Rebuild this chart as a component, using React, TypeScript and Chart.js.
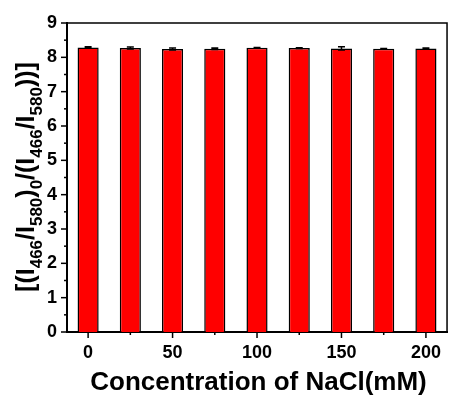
import React, { useEffect, useRef } from "react";
import { Chart, registerables } from "chart.js";

Chart.register(...registerables);

const categories = ["0", "25", "50", "75", "100", "125", "150", "175", "200"];
const values = [8.29, 8.27, 8.24, 8.25, 8.28, 8.27, 8.26, 8.25, 8.26];
const errors = [0.02, 0.03, 0.03, 0.02, 0.01, 0.01, 0.05, 0.01, 0.01];
const yTicks = [0, 1, 2, 3, 4, 5, 6, 7, 8, 9];
const xTitle = "Concentration of NaCl(mM)";
// [text, isSubscript]
const yTitleParts: [string, boolean][] = [
  ["[(I", false],
  ["466", true],
  ["/I", false],
  ["580", true],
  [")", false],
  ["0", true],
  ["/(I", false],
  ["466", true],
  ["/I", false],
  ["580", true],
  ["))]", false],
];

const FONT = "Arial, 'Liberation Sans', sans-serif";

const decorPlugin = {
  id: "decor",
  afterDatasetsDraw(chart: any) {
    const ctx = chart.ctx;
    const ys = chart.scales.y;
    const meta = chart.getDatasetMeta(0);
    ctx.save();
    ctx.strokeStyle = "#000";
    ctx.lineWidth = 1.5;
    meta.data.forEach((bar: any, i: number) => {
      const x = bar.x;
      const yTop = ys.getPixelForValue(values[i] + errors[i]);
      const yBot = ys.getPixelForValue(values[i] - errors[i]);
      ctx.beginPath();
      ctx.moveTo(x, yTop);
      ctx.lineTo(x, yBot);
      ctx.moveTo(x - 3.5, yTop);
      ctx.lineTo(x + 3.5, yTop);
      ctx.moveTo(x - 3.5, yBot);
      ctx.lineTo(x + 3.5, yBot);
      ctx.stroke();
    });
    ctx.restore();
  },
  afterDraw(chart: any) {
    const ctx = chart.ctx;
    const area = chart.chartArea;
    const xs = chart.scales.x;
    const ys = chart.scales.y;
    ctx.save();
    ctx.strokeStyle = "#000";
    ctx.lineWidth = 1.5;
    ctx.beginPath();
    ctx.moveTo(area.left, area.top);
    ctx.lineTo(area.right, area.top);
    ctx.lineTo(area.right, area.bottom);
    ctx.stroke();
    for (let v = 0; v <= 9.001; v += 0.5) {
      const y = ys.getPixelForValue(v);
      const major = Math.abs(v - Math.round(v)) < 1e-6;
      ctx.beginPath();
      ctx.moveTo(area.left, y);
      ctx.lineTo(area.left - (major ? 6 : 3), y);
      ctx.stroke();
    }
    categories.forEach((c, i) => {
      const x = xs.getPixelForValue(i);
      const major = i % 2 === 0;
      ctx.beginPath();
      ctx.moveTo(x, area.bottom);
      ctx.lineTo(x, area.bottom + (major ? 6 : 3));
      ctx.stroke();
    });
    ctx.fillStyle = "#000";
    ctx.font = `bold 26px ${FONT}`;
    ctx.textAlign = "center";
    ctx.textBaseline = "alphabetic";
    ctx.fillText(xTitle, 258.5, 390);
    const mainFont = `bold 25px ${FONT}`;
    const subFont = `bold 17px ${FONT}`;
    let total = 0;
    yTitleParts.forEach(([t, sub]) => {
      ctx.font = sub ? subFont : mainFont;
      total += ctx.measureText(t).width;
    });
    ctx.translate(34, 177);
    ctx.rotate(-Math.PI / 2);
    ctx.textAlign = "left";
    let pos = -total / 2;
    yTitleParts.forEach(([t, sub]) => {
      ctx.font = sub ? subFont : mainFont;
      ctx.fillText(t, pos, sub ? 8 : 0);
      pos += ctx.measureText(t).width;
    });
    ctx.restore();
  },
};

export default function App() {
  const ref = useRef<HTMLCanvasElement>(null);
  useEffect(() => {
    if (!ref.current) return;
    const chart = new Chart(ref.current, {
      type: "bar",
      data: {
        labels: categories,
        datasets: [
          {
            data: values,
            backgroundColor: "#ff0000",
            borderColor: "#000",
            borderWidth: 1.5,
            categoryPercentage: 1,
            barPercentage: 0.5,
          },
        ],
      },
      options: {
        animation: false,
        responsive: false,
        events: [],
        layout: { padding: { left: 0, top: 23, right: 1, bottom: 0 } },
        plugins: { legend: { display: false }, tooltip: { enabled: false } },
        scales: {
          x: {
            type: "category",
            offset: true,
            grid: { display: false, drawTicks: false },
            border: { display: true, color: "#000", width: 2 },
            ticks: {
              color: "#000",
              font: { family: FONT, size: 18, weight: "bold" },
              padding: 10,
              maxRotation: 0,
              autoSkip: false,
              callback: (_v: any, i: number) => (i % 2 === 0 ? categories[i] : ""),
            },
            afterFit: (s: any) => {
              s.height = 69;
            },
          },
          y: {
            min: 0,
            max: 9,
            afterBuildTicks: (s: any) => {
              s.ticks = yTicks.map((v) => ({ value: v }));
            },
            grid: { display: false, drawTicks: false },
            border: { display: true, color: "#000", width: 2 },
            ticks: {
              color: "#000",
              font: { family: FONT, size: 18, weight: "bold" },
              padding: 10,
            },
            afterFit: (s: any) => {
              s.width = 67;
            },
          },
        },
      },
      plugins: [decorPlugin],
    });
    return () => chart.destroy();
  }, []);
  return (
    <div style={{ position: "absolute", left: 0, top: 0, width: 451, height: 401, background: "#fff" }}>
      <canvas ref={ref} width={451} height={401} style={{ width: 451, height: 401 }} />
    </div>
  );
}
